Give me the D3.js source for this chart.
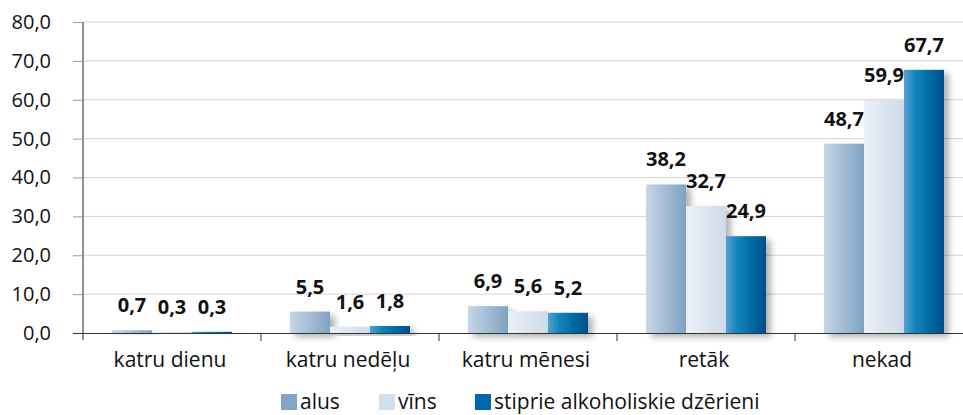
<!DOCTYPE html>
<html>
<head>
<meta charset="utf-8">
<script src="https://cdn.jsdelivr.net/npm/d3@7"></script>
<style>
  body { margin: 0; background: #fff; }
  text { font-family: "Open Sans", "Noto Sans", sans-serif; }
</style>
</head>
<body>
<div id="chart"></div>
<script>
var categories = ["katru dienu", "katru nedēļu", "katru mēnesi", "retāk", "nekad"];
var seriesNames = ["alus", "vīns", "stiprie alkoholiskie dzērieni"];
var alus = [0.7, 5.5, 6.9, 38.2, 48.7];
var vins = [0.3, 1.6, 5.6, 32.7, 59.9];
var stiprie = [0.3, 1.8, 5.2, 24.9, 67.7];
var yTicks = [0, 10, 20, 30, 40, 50, 60, 70, 80];

var svgWidth = 963;
var svgHeight = 415;

var svg = d3.select("#chart")
    .append("svg")
    .attr("width", svgWidth)
    .attr("height", svgHeight);

var defs = svg.append("defs");

// gradients for bars
var grads = [
    { id: "g0", stops: [["0%", "#c6d6e8"], ["100%", "#7fa2c2"]] },
    { id: "g1", stops: [["0%", "#eaf0f7"], ["100%", "#cfdbe9"]] },
    { id: "g2", stops: [["0%", "#5a9fd0"], ["30%", "#0a84bb"], ["100%", "#004f88"]] }
];
grads.forEach(g => {
    var lg = defs.append("linearGradient")
        .attr("id", g.id)
        .attr("x1", "0%").attr("x2", "100%")
        .attr("y1", "0%").attr("y2", "0%");
    g.stops.forEach(s => {
        lg.append("stop").attr("offset", s[0]).attr("stop-color", s[1]);
    });
});

var shadow = defs.append("filter")
    .attr("id", "shadow")
    .attr("x", "-20%").attr("y", "-20%")
    .attr("width", "160%").attr("height", "160%");
shadow.append("feDropShadow")
    .attr("dx", 5).attr("dy", 4)
    .attr("stdDeviation", 3)
    .attr("flood-color", "#000")
    .attr("flood-opacity", 0.3);

var legendColors = ["#80a6c7", "#d2dfec", "#0067ab"];

var yScale = d3.scaleLinear()
    .domain([0, 80])
    .range([333, 22]);

var x0 = d3.scaleBand()
    .domain(categories)
    .range([83, 973]);

var x1 = d3.scaleBand()
    .domain(seriesNames)
    .range([0, x0.bandwidth()])
    .paddingOuter(0.725);

// gridlines
svg.append("g")
    .selectAll("line")
    .data(yTicks.filter(d => d > 0))
    .enter()
    .append("line")
    .attr("x1", 83)
    .attr("x2", svgWidth)
    .attr("y1", d => yScale(d))
    .attr("y2", d => yScale(d))
    .attr("stroke", "#d3d3d3")
    .attr("stroke-width", 1);

// y axis
var yAxis = d3.axisLeft(yScale)
    .tickValues(yTicks)
    .tickSize(10)
    .tickPadding(22)
    .tickFormat(d => d3.format(".1f")(d).replace(".", ","));

var yAxisG = svg.append("g")
    .attr("transform", "translate(83,0)")
    .call(yAxis);
yAxisG.select(".domain").attr("stroke", "#222").attr("d", "M0,22V340");
yAxisG.selectAll(".tick line").attr("stroke", "#999");
yAxisG.selectAll(".tick text")
    .attr("font-size", "20px")
    .attr("fill", "#111")
    .attr("font-family", "Open Sans, sans-serif");

// bars
var series = [alus, vins, stiprie];
var rows = [];
series.forEach((vals, si) => {
    vals.forEach((v, ci) => {
        rows.push({ cat: categories[ci], name: seriesNames[si], si: si, value: v });
    });
});

svg.append("g")
    .selectAll("rect")
    .data(rows)
    .enter()
    .append("rect")
    .attr("x", d => x0(d.cat) + x1(d.name))
    .attr("y", d => yScale(d.value))
    .attr("width", x1.bandwidth())
    .attr("height", d => yScale(0) - yScale(d.value))
    .attr("fill", d => "url(#g" + d.si + ")")
    .attr("filter", "url(#shadow)");

// x axis
svg.append("line")
    .attr("x1", 73)
    .attr("x2", svgWidth)
    .attr("y1", 333.5)
    .attr("y2", 333.5)
    .attr("stroke", "#333");

svg.append("g")
    .selectAll("line")
    .data(categories.slice(1))
    .enter()
    .append("line")
    .attr("x1", d => x0(d))
    .attr("x2", d => x0(d))
    .attr("y1", 333)
    .attr("y2", 341)
    .attr("stroke", "#333");

svg.append("g")
    .selectAll("text")
    .data(categories)
    .enter()
    .append("text")
    .attr("x", d => x0(d) + x0.bandwidth() / 2 - 2)
    .attr("y", 367)
    .attr("text-anchor", "middle")
    .attr("font-size", "21px")
    .attr("fill", "#111")
    .text(d => d);

// value labels
svg.append("g")
    .selectAll("text")
    .data(rows)
    .enter()
    .append("text")
    .attr("x", d => x0(d.cat) + x1(d.name) + x1.bandwidth() / 2)
    .attr("y", d => yScale(d.value) - 18)
    .attr("text-anchor", "middle")
    .attr("font-size", "20px")
    .attr("font-weight", "bold")
    .attr("fill", "#111")
    .text(d => d3.format(".1f")(d.value).replace(".", ","));

// legend
var legendX = [281, 379, 475];
var legend = svg.append("g")
    .selectAll("g")
    .data(seriesNames)
    .enter()
    .append("g")
    .attr("transform", (d, i) => `translate(${legendX[i]}, 394)`);

legend.append("rect")
    .attr("width", 16)
    .attr("height", 16)
    .attr("fill", (d, i) => legendColors[i]);

legend.append("text")
    .attr("x", 19)
    .attr("y", 15)
    .attr("font-size", "21px")
    .attr("fill", "#111")
    .text(d => d);
</script>
</body>
</html>
